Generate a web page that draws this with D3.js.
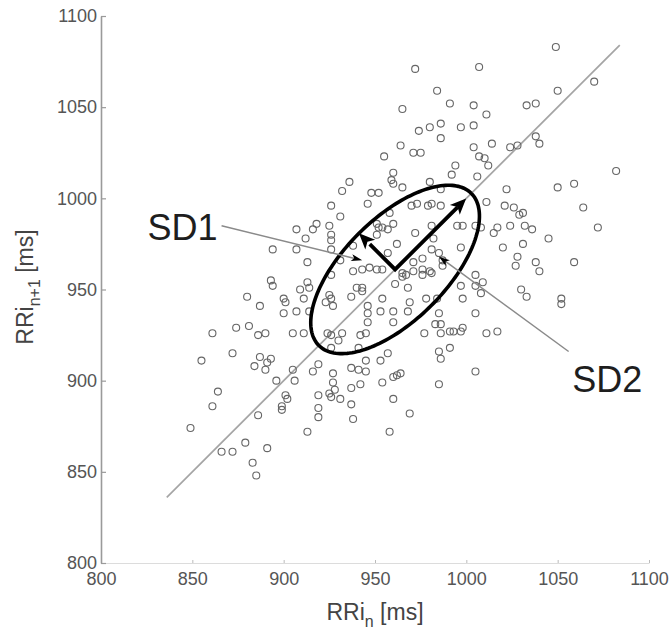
<!DOCTYPE html>
<html><head><meta charset="utf-8">
<script src="https://cdn.jsdelivr.net/npm/d3@7"></script>
<style>body{margin:0;background:#fff}</style>
</head><body><svg id="c" width="672" height="634"></svg>
<script>
// RRi_n values (ms)
const rrN = [
849,855,861,861,864,866,872,872,874,879,
880,881,883,885,884,886,886,887,887,890,
890,891,893,891,893,894,894,896,899,899,
900,901,900,901,902,905,905,906,907,907,
907,909,911,911,912,913,913,913,914,914,
916,916,918,919,919,919,919,923,924,925,
925,926,927,925,926,926,926,926,926,926,
926,926,927,927,928,930,931,931,931,932,
932,936,937,937,938,938,937,937,938,941,
941,942,942,943,943,943,940,945,945,945,
946,946,946,946,947,948,952,951,951,952,
954,957,951,954,953,953,954,954,955,957,
957,958,959,960,960,965,960,960,960,960,
960,961,962,962,964,964,965,965,965,967,
968,968,969,969,958,970,971,975,971,971,
972,972,973,974,976,976,976,977,978,979,
980,980,980,981,981,981,981,982,983,984,
984,985,985,985,986,985,986,986,986,986,
986,986,987,987,991,991,992,991,993,994,
995,997,997,997,998,998,997,998,
1004,1004,1004,1005,1005,1005,1005,1005,
1007,1010,1012,1006,1007,1008,1009,1008,1011,1011,1011,
1014,1015,1017,1017,1020,1021,1022,1024,1028,1024,1026,1029,1031,
1027,1028,1030,1031,1032,1033,1033,1036,1038,1038,1038,1040,1040,1045,
1049,1050,1050,1052,1052,1059,1059,1064,1070,1072,1082];
// RRi_{n+1} values (ms)
const rrN1 = [
874,911,926,886,894,861,861,915,929,866,
946,930,855,848,908,925,881,941,913,926,
906,863,912,910,955,952,972,900,886,884,
945,943,937,892,890,926,906,900,983,972,
938,950,945,926,978,872,965,954,951,938,
983,905,986,909,892,885,880,943,926,985,
947,945,941,893,891,980,977,972,958,996,
925,918,904,899,895,922,990,966,890,1004,
926,1009,946,907,974,960,896,887,879,906,
918,925,898,961,951,949,951,926,911,905,
997,941,937,932,962,1003,1003,980,986,984,
984,983,961,961,938,911,945,899,1023,970,
915,992,1010,1014,1008,1006,986,938,932,902,
890,953,975,903,904,1029,1049,959,957,958,
951,938,943,882,872,996,1025,1025,965,960,
1071,981,997,1037,967,961,958,926,945,996,
1039,1009,960,997,985,972,959,978,931,1059,
945,970,916,937,912,898,1041,1033,1005,996,
931,926,966,963,1052,918,1013,927,927,1018,
985,973,952,1039,945,929,927,985,
1051,1040,1028,985,958,937,952,905,
1023,1022,1018,1012,1072,948,954,984,1046,998,926,
1030,981,984,927,973,996,1005,1028,1029,985,995,991,992,
963,968,950,975,985,1051,946,983,965,1052,1034,1030,960,978,
1083,1059,1006,945,942,1008,965,995,1064,984,1015];
const xTicks = [800,850,900,950,1000,1050,1100];
const yTicks = [800,850,900,950,1000,1050,1100];
const identityRange = [836, 1084];
const ellipseCenter = [961, 961];
const SD1 = 28, SD2 = 59;
const labels = ["SD1", "SD2"];

const FONT = "'Liberation Sans', Arial, Helvetica, sans-serif";
const svg = d3.select("#c");
const x = d3.scaleLinear().domain([800,1100]).range([101,649]);
const y = d3.scaleLinear().domain([800,1100]).range([563,16]);

// axes
const gx = svg.append("g").attr("transform","translate(0,563)")
  .call(d3.axisBottom(x).tickValues(xTicks).tickSizeInner(-3).tickSizeOuter(0).tickPadding(9).tickFormat(d3.format("d")));
gx.attr("font-family", FONT).attr("font-size", 18);
gx.select(".domain").attr("stroke","#dcdcdc").attr("stroke-width",1.2);
gx.selectAll(".tick line").attr("stroke","#bbb");
gx.selectAll(".tick text").attr("fill","#555");

const gy = svg.append("g").attr("transform","translate(101,0)")
  .call(d3.axisLeft(y).tickValues(yTicks).tickSizeInner(-5).tickSizeOuter(0).tickPadding(4).tickFormat(d3.format("d")));
gy.attr("font-family", FONT).attr("font-size", 18);
gy.select(".domain").attr("stroke","#9a9a9a").attr("stroke-width",1.6);
gy.selectAll(".tick line").attr("stroke","#9a9a9a").attr("stroke-width",1.2);
gy.selectAll(".tick text").attr("fill","#555");

// identity line
svg.append("line")
  .attr("x1", x(identityRange[0])).attr("y1", y(identityRange[0]))
  .attr("x2", x(identityRange[1])).attr("y2", y(identityRange[1]))
  .attr("stroke","#a5a5a5").attr("stroke-width",1.7);

// points
svg.append("g").selectAll("circle").data(rrN.map((v,i)=>[v, rrN1[i]])).join("circle")
  .attr("cx", d=>x(d[0])).attr("cy", d=>y(d[1])).attr("r",3.5)
  .attr("fill","none").attr("stroke","#666").attr("stroke-width",1.1);

// ellipse
const c = Math.SQRT1_2;
const angles = d3.range(0, 2*Math.PI + 0.001, Math.PI/90);
const ell = angles.map(t => [
  ellipseCenter[0] + SD2*Math.cos(t)*c - SD1*Math.sin(t)*c,
  ellipseCenter[1] + SD2*Math.cos(t)*c + SD1*Math.sin(t)*c]);
svg.append("path").attr("d", d3.line().x(d=>x(d[0])).y(d=>y(d[1]))(ell))
  .attr("fill","none").attr("stroke","#000").attr("stroke-width",3.6);

function head(x0,y0,x1,y1,len,wid){
  const dx=x1-x0, dy=y1-y0, L=Math.hypot(dx,dy), ux=dx/L, uy=dy/L;
  const bx=x1-ux*len, by=y1-uy*len;
  return `M${x1},${y1}L${bx-uy*wid/2},${by+ux*wid/2}L${bx+ux*len*0.25},${by+uy*len*0.25}L${bx+uy*wid/2},${by-ux*wid/2}Z`;
}
function arrow(p0, p1, w, len, wid, col){
  const x0=x(p0[0]), y0=y(p0[1]), x1=x(p1[0]), y1=y(p1[1]);
  const L=Math.hypot(x1-x0,y1-y0);
  const ex = x1-(x1-x0)/L*len*0.7, ey = y1-(y1-y0)/L*len*0.7;
  svg.append("line").attr("x1",x0).attr("y1",y0).attr("x2",ex).attr("y2",ey)
    .attr("stroke",col).attr("stroke-width",w);
  svg.append("path").attr("d", head(x0,y0,x1,y1,len,wid)).attr("fill","#000");
}
// SD arrows from center
const sd1Tip = [ellipseCenter[0]-SD1*c, ellipseCenter[1]+SD1*c];
const sd2Tip = [ellipseCenter[0]+(SD2-4)*c, ellipseCenter[1]+(SD2-4)*c];
svg.append("path").attr("d", d3.line().x(d=>x(d[0])).y(d=>y(d[1]))([sd1Tip.map((v,i)=>ellipseCenter[i]+(v-ellipseCenter[i])*0.7), ellipseCenter, sd2Tip.map((v,i)=>ellipseCenter[i]+(v-ellipseCenter[i])*0.88)]))
  .attr("fill","none").attr("stroke","#000").attr("stroke-width",3.8).attr("stroke-linejoin","miter");
svg.append("path").attr("d", head(x(ellipseCenter[0]),y(ellipseCenter[1]),x(sd1Tip[0]),y(sd1Tip[1]),16,14)).attr("fill","#000");
svg.append("path").attr("d", head(x(ellipseCenter[0]),y(ellipseCenter[1]),x(sd2Tip[0]),y(sd2Tip[1]),16,14)).attr("fill","#000");

// annotation leaders
arrow([866,985],[943,966],1.5,11,7,"#8a8a8a");
arrow([1056,916],[985,968],1.5,11,7,"#8a8a8a");

// SD labels
svg.append("text").attr("x", x(825.5)).attr("y", y(977)).text(labels[0])
  .attr("font-family",FONT).attr("font-size",36).attr("fill","#1e1e1e");
svg.append("text").attr("x", x(1058)).attr("y", y(894)).text(labels[1])
  .attr("font-family",FONT).attr("font-size",36).attr("fill","#1e1e1e");

// axis labels
const xl = svg.append("text").attr("x",375).attr("y",620).attr("text-anchor","middle")
  .attr("font-family",FONT).attr("font-size",23).attr("fill","#444");
xl.append("tspan").text("RRi");
xl.append("tspan").text("n").attr("font-size",16).attr("dy",7);
xl.append("tspan").text(" [ms]").attr("dy",-7);

const yl = svg.append("text").attr("transform","translate(33,287) rotate(-90)").attr("text-anchor","middle")
  .attr("font-family",FONT).attr("font-size",23).attr("fill","#444");
yl.append("tspan").text("RRi");
yl.append("tspan").text("n+1").attr("font-size",16).attr("dy",7);
yl.append("tspan").text(" [ms]").attr("dy",-7);
</script></body></html>
